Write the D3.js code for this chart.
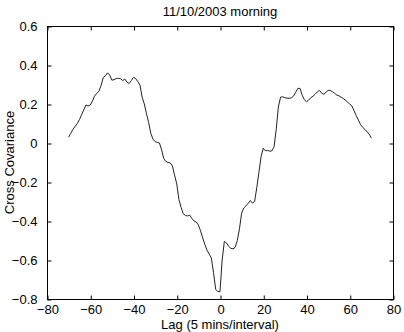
<!DOCTYPE html>
<html>
<head>
<meta charset="utf-8">
<script src="https://cdn.jsdelivr.net/npm/d3@7"></script>
<style>
  body { margin: 0; background: #fff; }
  text { font-family: "Liberation Sans", Arial, sans-serif; fill: #000; }
</style>
</head>
<body>
<div id="chart"></div>
<script>
// lags -70..70, cross covariance
var lags = d3.range(-70, 71);
var covariance = [
  0.03, 0.05, 0.07, 0.085, 0.10, 0.12, 0.145, 0.17, 0.195, 0.19,
  0.195, 0.215, 0.24, 0.255, 0.265, 0.295, 0.335, 0.345, 0.36, 0.348,
  0.322, 0.325, 0.33, 0.332, 0.33, 0.32, 0.328, 0.312, 0.305, 0.32,
  0.337, 0.33, 0.315, 0.297, 0.235, 0.2, 0.15, 0.105, 0.05, 0.02,
  0.007, 0.003, 0.0, -0.035, -0.08, -0.095, -0.1, -0.102, -0.118, -0.165,
  -0.21, -0.29, -0.33, -0.362, -0.372, -0.374, -0.37, -0.387, -0.4, -0.405,
  -0.42, -0.45, -0.487, -0.52, -0.55, -0.57, -0.59, -0.665, -0.75, -0.762,
  -0.762, -0.6, -0.505, -0.512, -0.53, -0.54, -0.543, -0.535, -0.5, -0.44,
  -0.36, -0.333, -0.322, -0.31, -0.295, -0.308, -0.3, -0.23, -0.15, -0.07,
  -0.027, -0.04, -0.038, -0.042, -0.04, -0.02, 0.07, 0.185, 0.235, 0.237,
  0.232, 0.23, 0.229, 0.232, 0.24, 0.26, 0.28, 0.28, 0.245, 0.222,
  0.212, 0.22, 0.232, 0.24, 0.25, 0.262, 0.27, 0.256, 0.25, 0.26,
  0.27, 0.27, 0.263, 0.255, 0.246, 0.242, 0.235, 0.228, 0.22, 0.21,
  0.2, 0.19, 0.165, 0.14, 0.118, 0.094, 0.08, 0.07, 0.058, 0.045,
  0.025
];
var xTicks = [-80, -60, -40, -20, 0, 20, 40, 60, 80];
var yTicks = [-0.8, -0.6, -0.4, -0.2, 0, 0.2, 0.4, 0.6];
var title = "11/10/2003 morning";
var xTitle = "Lag (5 mins/interval)";
var yTitle = "Cross Covariance";

var width = 404, height = 332;
var margin = {top: 26, right: 11, bottom: 33, left: 47};
var w = width - margin.left - margin.right,
    h = height - margin.top - margin.bottom;
var fontSize = "13px";

var fmt = function(d) { return String(d).replace("-", "\u2212"); };

var svg = d3.select("#chart").append("svg")
    .attr("width", width)
    .attr("height", height);

var g = svg.append("g")
    .attr("transform", "translate(" + margin.left + "," + margin.top + ")");

var x = d3.scaleLinear().domain([-80, 80]).range([0, w]);
var y = d3.scaleLinear().domain([-0.8, 0.6]).range([h, 0]);

// box
g.append("rect")
    .attr("x", 0.5).attr("y", 0.5)
    .attr("width", w).attr("height", h)
    .attr("fill", "none")
    .attr("stroke", "#000")
    .attr("stroke-width", 1);

// bottom / left axes with labels, ticks inward
var xAxis = g.append("g")
    .attr("transform", "translate(0.5," + (h + 0.5) + ")")
    .call(d3.axisBottom(x).tickValues(xTicks).tickSize(-4).tickPadding(5).tickFormat(fmt));
var yAxis = g.append("g")
    .attr("transform", "translate(0.5,0.5)")
    .call(d3.axisLeft(y).tickValues(yTicks).tickSize(-4).tickPadding(10).tickFormat(fmt));
// top / right ticks without labels
var xTop = g.append("g")
    .attr("transform", "translate(0.5,0.5)")
    .call(d3.axisTop(x).tickValues(xTicks).tickSize(-4).tickFormat(""));
var yRight = g.append("g")
    .attr("transform", "translate(" + (w + 0.5) + ",0.5)")
    .call(d3.axisRight(y).tickValues(yTicks).tickSize(-4).tickFormat(""));

[xAxis, yAxis, xTop, yRight].forEach(function(a) {
  a.select(".domain").remove();
  a.selectAll("line").attr("stroke", "#000");
  a.selectAll("text")
    .attr("font-family", "Liberation Sans, Arial, sans-serif")
    .attr("font-size", fontSize)
    .attr("fill", "#000");
});

// curve
var line = d3.line()
    .x(function(d, i) { return x(lags[i]); })
    .y(function(d) { return y(d); });

g.append("path")
    .datum(covariance)
    .attr("d", line)
    .attr("fill", "none")
    .attr("stroke", "#222")
    .attr("stroke-width", 1);

// titles
svg.append("text")
    .attr("x", margin.left + w / 2)
    .attr("y", 16)
    .attr("text-anchor", "middle")
    .attr("font-size", fontSize)
    .text(title);

svg.append("text")
    .attr("x", margin.left + w / 2)
    .attr("y", 328.5)
    .attr("text-anchor", "middle")
    .attr("font-size", fontSize)
    .text(xTitle);

svg.append("text")
    .attr("transform", "translate(13.5," + (margin.top + h / 2) + ") rotate(-90)")
    .attr("text-anchor", "middle")
    .attr("font-size", fontSize)
    .text(yTitle);
</script>
</body>
</html>
